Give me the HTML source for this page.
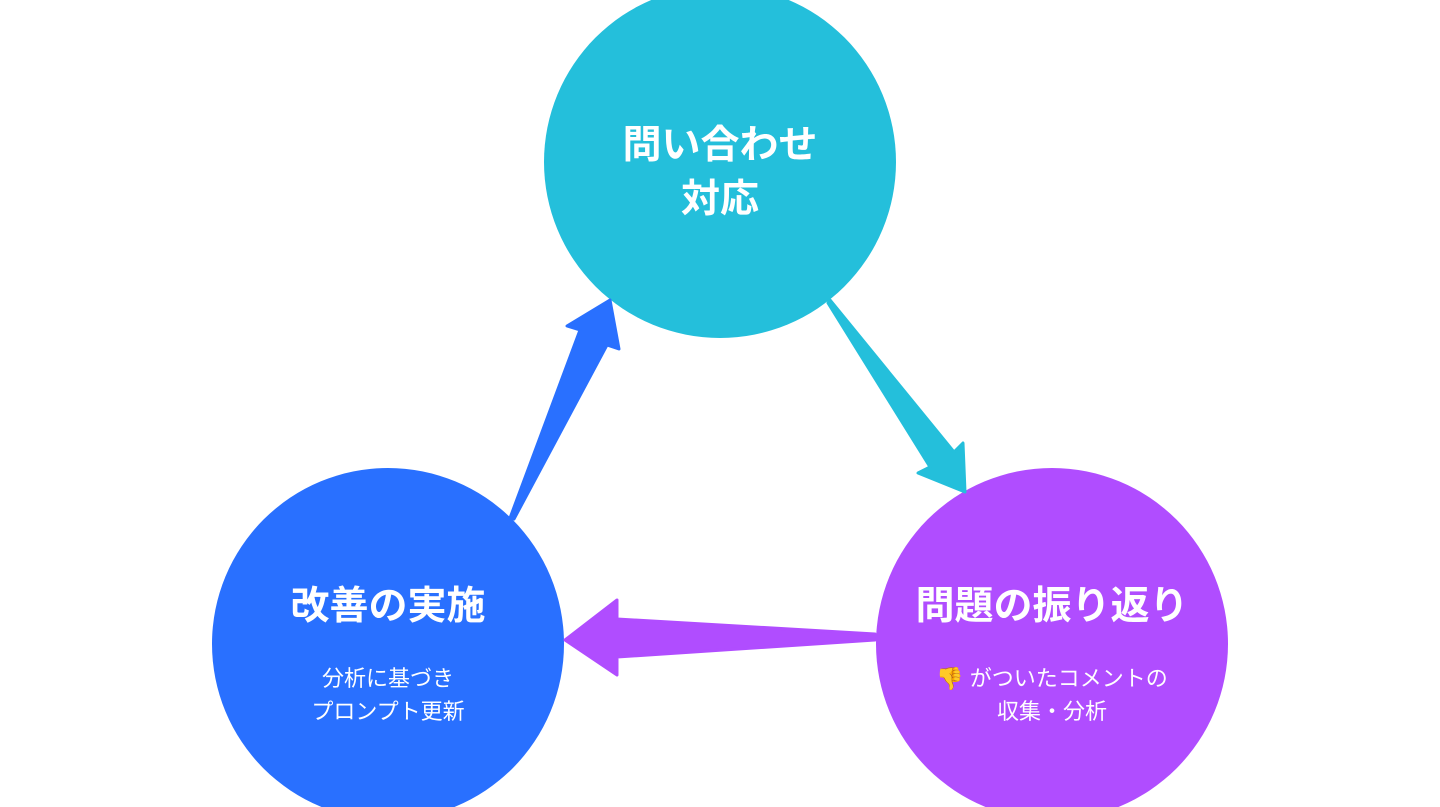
<!DOCTYPE html>
<html><head><meta charset="utf-8"><style>
body{margin:0;width:1440px;height:807px;overflow:hidden;background:#fff;font-family:"Liberation Sans","Noto Sans CJK JP",sans-serif}
svg{position:absolute;left:0;top:0}
.t{position:absolute;color:#fff;text-align:center;width:400px;font-weight:bold;font-size:39px;line-height:54px}
.s{position:absolute;color:#fff;text-align:center;width:400px;font-size:22px;line-height:33px}
</style></head><body>
<svg width="1440" height="807">
<circle cx="720" cy="162" r="176" fill="#24BFDB"/>
<circle cx="388" cy="644" r="176" fill="#2970FF"/>
<circle cx="1052" cy="644" r="176" fill="#B04DFF"/>
<polygon points="510,518 580,330 567,326 610,300 619,349 607,345 514,519" fill="#2970FF" stroke="#2970FF" stroke-width="3" stroke-linejoin="round"/>
<polygon points="830,300 954,452 963,443 965,492 918,473 930,467 828,303" fill="#24BFDB" stroke="#24BFDB" stroke-width="3" stroke-linejoin="round"/>
<polygon points="875,634 617,619 617,600 565,640 617,675 617,657 875,640" fill="#B04DFF" stroke="#B04DFF" stroke-width="3" stroke-linejoin="round"/>
</svg>
<div class="t" style="left:520px;top:119px">問い合わせ<br>対応</div>
<div class="t" style="left:188px;top:580px">改善の実施</div>
<div class="s" style="left:188px;top:662px">分析に基づき<br>プロンプト更新</div>
<div class="t" style="left:852px;top:580px">問題の振り返り</div>
<div class="s" style="left:852px;top:662px">👎 がついたコメントの<br>収集・分析</div>
</body></html>
